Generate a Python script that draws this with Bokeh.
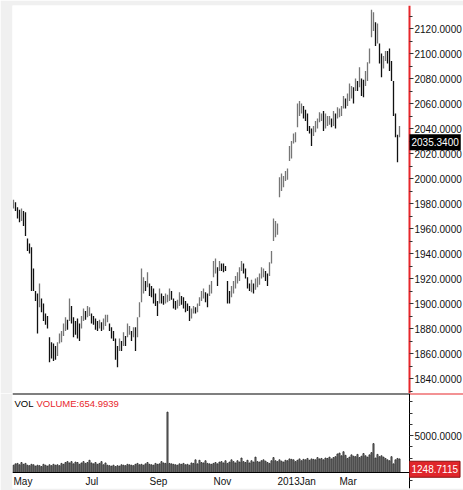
from bokeh.plotting import figure
from bokeh.layouts import column
from bokeh.models import Range1d, LinearAxis, FixedTicker, NumeralTickFormatter, Label, ColumnDataSource
from bokeh.core.properties import value
from bokeh.embed import file_html
from bokeh.resources import INLINE

# ---------------- data ----------------
price_high = [
    1983, 1981, 1977, 1975, 1976, 1974, 1973, 1952, 1948, 1945,
    1928, 1910, 1908, 1916, 1904, 1900, 1892, 1890, 1873, 1869,
    1868, 1866, 1869, 1876, 1878, 1884, 1889, 1887, 1904, 1898,
    1889, 1886, 1888, 1884, 1890, 1896, 1894, 1898, 1897, 1892,
    1890, 1888, 1886, 1887, 1885, 1888, 1891, 1891, 1884, 1881,
    1878, 1872, 1866, 1872, 1870, 1877, 1874, 1884, 1882, 1878,
    1881, 1881, 1889, 1901, 1928, 1921, 1918, 1925, 1916, 1914,
    1912, 1908, 1902, 1912, 1908, 1906, 1908, 1907, 1912, 1910,
    1904, 1902, 1903, 1909, 1906, 1905, 1902, 1900, 1898, 1896,
    1898, 1897, 1900, 1905, 1910, 1912, 1909, 1908, 1915, 1918,
    1934, 1936, 1929, 1934, 1932, 1932, 1930, 1918, 1910, 1914,
    1918, 1922, 1925, 1929, 1934, 1932, 1928, 1921, 1916, 1919,
    1916, 1920, 1921, 1924, 1929, 1928, 1926, 1924, 1933, 1942,
    1968, 1966, 1964, 2001, 2004, 2002, 2006, 2008, 2026, 2030,
    2036, 2037, 2060, 2062, 2060, 2058, 2055, 2052, 2042, 2040,
    2042, 2046, 2048, 2053, 2052, 2054, 2052, 2050, 2050, 2048,
    2054, 2052, 2057, 2056, 2058, 2066, 2064, 2068, 2076, 2074,
    2073, 2080, 2078, 2089, 2080, 2079, 2086, 2093, 2104, 2135,
    2133, 2125, 2124, 2108, 2100, 2098, 2102, 2102, 2104, 2094,
    2078, 2052, 2035, 2042,
]
price_low = [
    1976, 1974, 1968, 1965, 1966, 1962, 1954, 1942, 1940, 1910,
    1910, 1902, 1876, 1897, 1893, 1886, 1883, 1880, 1853, 1856,
    1854, 1855, 1858, 1868, 1869, 1874, 1878, 1879, 1886, 1884,
    1873, 1875, 1872, 1870, 1880, 1886, 1887, 1889, 1890, 1884,
    1883, 1879, 1878, 1880, 1878, 1879, 1882, 1885, 1878, 1872,
    1870, 1855, 1849, 1862, 1862, 1866, 1866, 1873, 1875, 1870,
    1873, 1862, 1873, 1889, 1901, 1908, 1910, 1913, 1906, 1905,
    1900, 1898, 1890, 1900, 1900, 1899, 1900, 1901, 1902, 1903,
    1896, 1895, 1896, 1898, 1899, 1896, 1893, 1894, 1886, 1888,
    1892, 1892, 1893, 1898, 1902, 1904, 1901, 1897, 1906, 1908,
    1921, 1924, 1914, 1926, 1926, 1925, 1926, 1900, 1900, 1905,
    1908, 1912, 1916, 1918, 1926, 1924, 1920, 1912, 1910, 1909,
    1908, 1911, 1913, 1915, 1920, 1921, 1918, 1914, 1922, 1932,
    1950, 1953, 1955, 1985, 1990, 1993, 1998, 1999, 2014, 2016,
    2028, 2029, 2041, 2050, 2052, 2048, 2046, 2038, 2036, 2026,
    2034, 2037, 2040, 2045, 2046, 2038, 2040, 2042, 2043, 2041,
    2042, 2040, 2048, 2049, 2050, 2056, 2056, 2058, 2062, 2064,
    2060, 2070, 2070, 2073, 2066, 2065, 2074, 2078, 2092, 2113,
    2118, 2106, 2108, 2092, 2081, 2088, 2094, 2092, 2086, 2078,
    2050, 2033, 2013, 2033,
]
volume = [
    1700, 1850, 1900, 1750, 2000, 1800, 1900, 1700, 1650, 1800,
    1750, 1600, 1700, 1650, 1550, 1800, 1700, 1600, 1750, 1650,
    1800, 1700, 1750, 1650, 1900, 1800, 2000, 2100, 1950, 2100,
    1850, 2050, 2000, 1800, 1950, 2100, 1900, 2000, 2250, 1950,
    1850, 2000, 1800, 1900, 2100, 1750, 1950, 1700, 1650, 1600,
    1700, 1550, 1650, 1600, 1750, 1700, 1650, 1800, 1750, 1700,
    1650, 1800, 1900, 1750, 1800, 1700, 1850, 2000, 1800, 1750,
    1700, 1900, 1800, 1850, 2100, 1950, 1900, 7600, 1900, 1850,
    1800, 1750, 1700, 1850, 1800, 1900, 1750, 1800, 1700, 1950,
    1900, 2300, 1850, 2250, 2000, 1950, 2200, 1900, 1850, 1800,
    1900, 2000, 1850, 2050, 2100, 1950, 2200, 1900, 2050, 2300,
    2100, 1950, 2200, 2050, 2500, 2100, 2000, 2250, 1950, 2200,
    2050, 2600, 2100, 2050, 2200, 2300, 2150, 2000, 1900, 2200,
    2550, 2200, 2100, 2300, 2150, 2050, 2250, 2200, 2400, 2350,
    2300, 2100, 2250, 2400, 2200, 2350, 2300, 2450, 2250, 2400,
    2350, 2300, 2550, 2400, 2450, 2300, 2500, 2450, 2600, 2400,
    2550, 2650, 2950, 3050, 2750, 3200, 2800, 2450, 2600, 2850,
    2700, 2650, 2900, 2550, 2700, 3000, 2750, 2600, 2850, 3100,
    4100, 2500, 2900, 2650, 2750, 2600, 2450, 2300, 2200, 2650,
    1850, 2300, 2450, 2400,
]
month_labels = ["May", "Jul", "Sep", "Nov", "2013Jan", "Mar"]
month_bar_index = [0, 36, 68, 100, 132, 163]
price_ticks = [1840, 1860, 1880, 1900, 1920, 1940, 1960, 1980, 2000,
               2020, 2040, 2060, 2080, 2100, 2120]
price_minor_ticks = [1830, 1850, 1870, 1890, 1910, 1930, 1950, 1970, 1990,
                     2010, 2030, 2050, 2070, 2090, 2110, 2130]
volume_major_ticks = [5000]
volume_minor_ticks = [0, 1250, 2500, 3750, 6250, 7500, 8750]
last_close = 2035.34
last_volume = 1248.7115
volume_title_value = 654.9939

# ---------------- layout constants ----------------
FONT = "Liberation Sans"
FS = "10px"
RED = "#e8262b"
GRAY_BG = "#f0f0f0"
X_START, X_AXIS, X_END = -0.5, 198, 225       # plot area | price axis area
PRICE_RANGE = (1828, 2138.4)
VOL_FLOOR, VOL_TOP, VOL_BOTTOM = 889, 9667, -889

n = len(price_high)
xs = list(range(n))
mids = [(h + l) / 2 for h, l in zip(price_high, price_low)]
colors = ["#111111" if (i > 0 and mids[i] < mids[i - 1]) else "#767676" for i in range(n)]
src = ColumnDataSource(dict(x=xs, high=price_high, low=price_low, vol=volume, color=colors))
month_src = ColumnDataSource(dict(x=month_bar_index, y=[VOL_FLOOR] * len(month_labels), text=month_labels))

x_range = Range1d(X_START, X_END)


def right_axis(line_color, ticks, minor):
    ax = LinearAxis(fixed_location=X_AXIS)
    ax.ticker = FixedTicker(ticks=ticks, minor_ticks=minor)
    ax.formatter = NumeralTickFormatter(format="0.0000")
    ax.axis_line_color = line_color
    ax.major_tick_line_color = "#333333"
    ax.minor_tick_line_color = "#333333"
    ax.major_tick_in = 0
    ax.major_tick_out = 4
    ax.minor_tick_in = 0
    ax.minor_tick_out = 3
    ax.major_label_standoff = 1
    ax.major_label_text_font = FONT
    ax.major_label_text_font_size = FS
    ax.major_label_text_color = "#111111"
    return ax


def bare_line(loc, lo, hi, color, width=2):
    return LinearAxis(fixed_location=loc, bounds=(lo, hi), axis_line_color=color,
                      axis_line_width=width, ticker=FixedTicker(ticks=[], minor_ticks=[]),
                      major_tick_line_color=None, minor_tick_line_color=None,
                      major_label_standoff=0)


# ---------------- price panel ----------------
p = figure(frame_width=451, frame_height=388, x_range=x_range,
           y_range=Range1d(*PRICE_RANGE), output_backend="svg", toolbar_location=None,
           min_border_left=12, min_border_right=0, min_border_top=5, min_border_bottom=0,
           y_axis_location=None, x_axis_location=None,
           border_fill_color=GRAY_BG, background_fill_color="white", outline_line_color=None)
p.xgrid.visible = False
p.ygrid.visible = False
p.segment(x0="x", y0="low", x1="x", y1="high", line_color="color", line_width=1.3, source=src)

pa = right_axis(RED, price_ticks, price_minor_ticks)
pa.axis_line_width = 2
p.add_layout(pa, "right")

p.add_layout(Label(x=X_AXIS, y=last_close, text=f"{last_close:.4f}",
                   text_align="left", text_baseline="top",
                   text_font=FONT, text_font_size=FS, text_color="white",
                   background_fill_color="black", padding=(2, 4)))

# ---------------- volume panel ----------------
v = figure(frame_width=451, frame_height=95, x_range=x_range,
           y_range=Range1d(VOL_BOTTOM, VOL_TOP), output_backend="svg", toolbar_location=None,
           min_border_left=12, min_border_right=0, min_border_top=0, min_border_bottom=2,
           y_axis_location=None, x_axis_location=None,
           border_fill_color=GRAY_BG, background_fill_color="white", outline_line_color=None)
v.xgrid.visible = False
v.ygrid.visible = False
v.vbar(x="x", top="vol", bottom=VOL_FLOOR, width=0.55, fill_color="#8a8a8a",
       line_color="#262626", line_width=0.8, source=src)

v.add_layout(right_axis("black", volume_major_ticks, volume_minor_ticks), "right")

# time axis line along the volume floor, month names drawn through the x scale
v.add_layout(bare_line(VOL_FLOOR, X_START, X_AXIS, "black", 1), "below")
v.text(x="x", y="y", text="text", source=month_src, text_align="left", text_baseline="top",
       y_offset=4, text_font=value(FONT), text_font_size=value(FS), text_color="#111111")

v.add_layout(bare_line(VOL_TOP, X_START, X_AXIS, "black"), "above")
v.add_layout(bare_line(VOL_TOP, X_AXIS, X_END, RED), "above")

v.add_layout(Label(x=X_START, y=VOL_TOP, text="VOL", x_offset=2, y_offset=-4,
                   text_align="left", text_baseline="top", text_font=FONT,
                   text_font_size="9.5px", text_color="black"))
v.add_layout(Label(x=X_START, y=VOL_TOP, text=f"VOLUME:{volume_title_value:.4f}", x_offset=24, y_offset=-4,
                   text_align="left", text_baseline="top", text_font=FONT,
                   text_font_size="9.5px", text_color=RED))
v.add_layout(Label(x=X_AXIS, y=last_volume, text=f"{last_volume:.4f}",
                   text_align="left", text_baseline="middle",
                   text_font=FONT, text_font_size=FS, text_color="white",
                   background_fill_color="#e0262b", border_line_color="#8a1010", padding=(2, 4)))

layout = column(p, v, spacing=0)
open("out.html", "w").write(file_html(layout, INLINE))
